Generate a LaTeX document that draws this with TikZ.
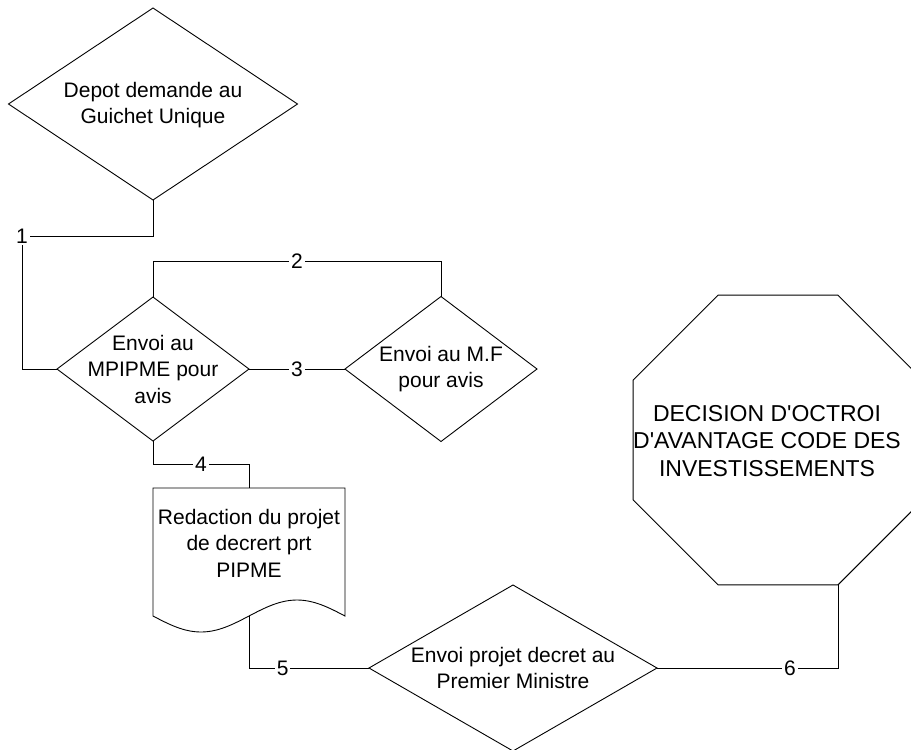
\documentclass[tikz,border=0pt]{standalone}
\usepackage{fontspec}
\setmainfont{Liberation Sans}
\usetikzlibrary{shapes.geometric}
\begin{document}
\begin{tikzpicture}[x=1pt,y=-1pt,
  line width=0.9pt,
  dia/.style={shape=diamond, draw, inner sep=0pt, outer sep=0pt},
  txt/.style={align=center, inner sep=0pt, font=\fontsize{21}{26.5}\selectfont},
  lbl/.style={fill=white, inner sep=2pt, font=\fontsize{21}{24}\selectfont},
]
\useasboundingbox (0,0) rectangle (911,750);
\clip (0,0) rectangle (911,750);

% shapes
\node[dia, minimum width=289pt, minimum height=192pt] (d1) at (153,104) {};
\node[txt] (t1) at (153,105) {Depot demande au\\Guichet Unique};

\node[dia, minimum width=192pt, minimum height=144pt] (d2) at (153,369) {};
\node[txt] (t2) at (d2) {Envoi au\\MPIPME pour\\avis};

\node[dia, minimum width=192pt, minimum height=145pt] (d3) at (441,369) {};
\node[txt] (t3) at (d3) {Envoi au M.F\\pour avis};

\node[dia, minimum width=288pt, minimum height=166pt] (d4) at (513,668) {};
\node[txt] (t4) at (d4) {Envoi projet decret au\\Premier Ministre};

\node[minimum width=192pt, minimum height=128pt, inner sep=0pt, outer sep=0pt] (doc) at (249,552) {};
\draw (doc.south west) -- (doc.north west) -- (doc.north east) -- (doc.south east)
  sin ++(-48,-16) cos ++(-48,16) sin ++(-48,16) cos ++(-48,-16) -- cycle;
\node[txt] (t5) at (249,543) {Redaction du projet\\de decrert prt\\PIPME};

\node[shape=regular polygon, regular polygon sides=8, minimum size=313.6pt, draw,
      inner sep=0pt, outer sep=0pt] (oct) at (778,440) {};
\node[txt, font=\fontsize{23}{27.5}\selectfont] (t6) at (767,441)
  {DECISION D\textquotesingle OCTROI\\D\textquotesingle AVANTAGE CODE DES\\INVESTISSEMENTS};

% connectors
\coordinate (k1) at (22,236);
\draw (d1.south) |- (k1) node[lbl] (l1) {1} |- (d2.west);
\draw (d2.north) -- ++(0,-36) -| node[lbl,pos=0.25] (l2) {2} (d3.north);
\draw (d2.east) -- node[lbl] (l3) {3} (d3.west);
\draw (d2.south) -- ++(0,23) -| node[lbl,pos=0.25] (l4) {4} (doc.north);
\draw (doc.south) |- node[lbl,pos=0.64] (l5) {5} (d4.west);
\coordinate (oc) at ([xshift=60pt]oct.south);
\draw (d4.east) -| node[lbl,pos=0.367] (l6) {6} (oc);
\end{tikzpicture}
\end{document}
